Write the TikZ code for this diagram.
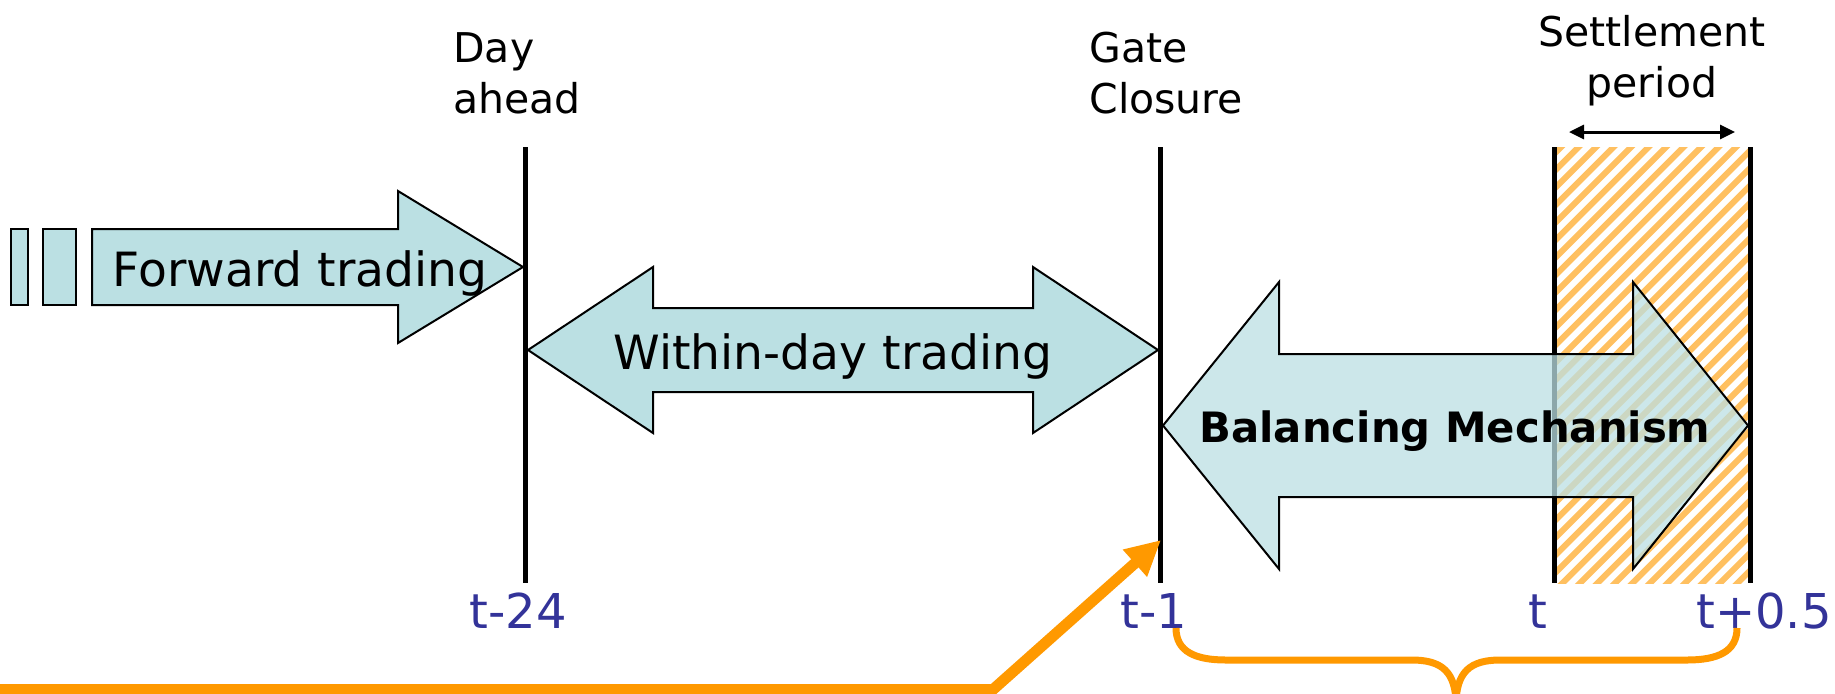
\documentclass[tikz,border=0pt]{standalone}
\usepackage{fontspec}
\setmainfont{DejaVu Sans}
\usetikzlibrary{arrows.meta}
\definecolor{arrowfill}{HTML}{BBE0E3}
\definecolor{gcorange}{HTML}{FF9900}
\definecolor{hatchorange}{HTML}{FFC060}
\definecolor{ticklabel}{HTML}{333399}
\begin{document}
\begin{tikzpicture}[x=0.5pt,y=-0.5pt,
  timeline/.style={line width=2.5pt,black},
  bigarrow/.style={draw=black,line width=1pt,fill=arrowfill,line join=miter},
  arrowtext/.style={anchor=base,inner sep=0pt,font=\fontsize{23.6}{28}\selectfont},
  eventlabel/.style={inner sep=0pt,font=\fontsize{20.5}{25.5}\selectfont},
  ticktext/.style={anchor=base,inner sep=0pt,text=ticklabel,font=\fontsize{24}{29}\selectfont},
  orangeline/.style={draw=gcorange,line width=5.5pt,line join=miter},
  bracestyle/.style={draw=gcorange,line width=3.5pt}]
\useasboundingbox (0,0) rectangle (1835,693);
\fill[white] (0,0) rectangle (1835,693);

% settlement period hatch
\begin{scope}
  \clip (1554,147) rectangle (1750,583);
  \foreach \k in {0,...,38} {
    \draw[hatchorange,line width=3pt] ({1118+\k*17.5},590) -- ++(450,-450);
  }
\end{scope}

% time lines
\coordinate (da-top) at (525,147);   \coordinate (da-bot) at (525,583);
\coordinate (gc-top) at (1160.5,147); \coordinate (gc-bot) at (1160.5,583);
\coordinate (t-top) at (1554,147);   \coordinate (t-bot) at (1554,583);
\coordinate (th-top) at (1750,147);  \coordinate (th-bot) at (1750,583);
\draw[timeline] (da-top) -- (da-bot);
\draw[timeline] (gc-top) -- (gc-bot);
\draw[timeline] (t-top) -- (t-bot);
\draw[timeline] (th-top) -- (th-bot);

% forward trading
\draw[bigarrow] (11,229) rectangle (28,305);
\draw[bigarrow] (43,229) rectangle (76,305);
\draw[bigarrow] (92,229) -- (398,229) -- (398,191) -- (523,267) -- (398,343) -- (398,305) -- (92,305) -- cycle;
\node[arrowtext] (fwdtext) at (300,286) {Forward trading};

% within-day trading
\draw[bigarrow] (528,350) -- (653,267) -- (653,308) -- (1033,308) -- (1033,267) -- (1158,350)
  -- (1033,433) -- (1033,392) -- (653,392) -- (653,433) -- cycle;
\node[arrowtext] (wdtext) at (833,369) {Within-day trading};

% balancing mechanism
\draw[bigarrow,fill opacity=0.75] (1163,425.5) -- (1279,282) -- (1279,354) -- (1633,354) -- (1633,282)
  -- (1748,425.5) -- (1633,569) -- (1633,497) -- (1279,497) -- (1279,569) -- cycle;
\node[anchor=base,inner sep=0pt,font=\bfseries\fontsize{20.9}{25}\selectfont] (bmtext) at (1455,442) {Balancing Mechanism};

% event labels (anchor = baseline of last line)
\node[eventlabel,anchor=base west,align=left] (dayahead) at (453,113) {Day\\ahead};
\node[eventlabel,anchor=base west,align=left] (gateclosure) at (1089,113) {Gate\\Closure};
\node[eventlabel,anchor=base,align=center] (settlement) at (1652,97) {Settlement\\period};
\coordinate (sp-left) at (1569,132);
\coordinate (sp-right) at (1735,132);
\draw[line width=1.5pt,{Triangle[length=7.5pt,width=7pt]}-{Triangle[length=7.5pt,width=7pt]}] (sp-left) -- (sp-right);

% tick labels
\node[ticktext] (lab24) at (518,628) {t-24};
\node[ticktext] (lab1) at (1154,628) {t-1};
\node[ticktext] (labt) at (1538,628) {t};
\node[ticktext] (labh) at (1764,628) {t+0.5};

% orange pointer to gate closure
\coordinate (ptr-start) at (-10,689.5);
\coordinate (ptr-bend) at (993,689.5);
\coordinate (ptr-tip) at (1161,540);
\draw[orangeline,-{Triangle[length=17.5pt,width=17pt]}] (ptr-start) -- (ptr-bend) -- (ptr-tip);

% brace
\coordinate (br-left) at (1176,628);
\coordinate (br-right) at (1737,628);
\coordinate (br-mid) at (1456,705);
\draw[bracestyle] (br-left) .. controls (1176,652) and (1196,660) .. (1226,660) -- (1412,660)
  .. controls (1442,660) and (1456,672) .. (br-mid);
\draw[bracestyle] (br-right) .. controls (1737,652) and (1717,660) .. (1687,660) -- (1500,660)
  .. controls (1470,660) and (1456,672) .. (br-mid);
\end{tikzpicture}
\end{document}
